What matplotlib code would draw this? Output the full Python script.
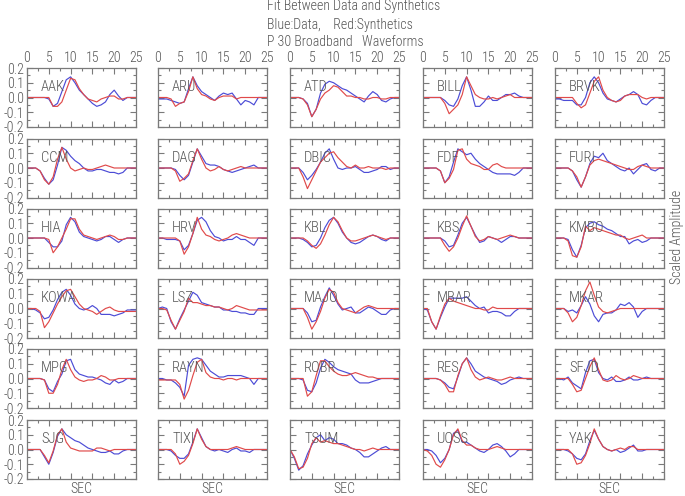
import matplotlib
matplotlib.use("Agg")
import matplotlib.pyplot as plt
import matplotlib.font_manager as fm
from matplotlib.ticker import FixedLocator, FixedFormatter

# ---------------- data (time in s, amplitudes in units of 0.01) ----------------
time_s = list(range(26))

stations = ["AAK", "ARU", "ATD", "BILL", "BRVK",
            "CCM", "DAG", "DBIC", "FDF", "FURI",
            "HIA", "HRV", "KBL", "KBS", "KMBO",
            "KOWA", "LSZ", "MAJO", "MBAR", "MKAR",
            "MPG", "RAYN", "ROBR", "RES", "SFJD",
            "SJG", "TIXI", "TSUM", "UOSS", "YAK"]

AAK_B = [0,0,0,0,0,-1,-6,-4,4,12,14,10,5,2,-1,-4,-6,-5,-3,2,5,1,-2,0,0,0]
AAK_R = [0,0,0,0,0,0,-6,-6,-3,5,13,12,6,2,-1,-2,-3,-1,0,1,1,-1,-1,0,0,0]
ARU_B = [-1,-1,-1,-2,-3,-4,-3,6,14,8,4,2,0,-2,1,3,2,3,-1,-5,-2,-3,-5,0,0,0]
ARU_R = [0,0,0,-1,-6,-4,-3,4,14,6,2,1,-1,-2,0,1,1,1,-1,0,0,0,0,0,0,0]
ATD_B = [0,0,0,-1,-4,-13,-8,3,9,11,10,8,6,5,3,1,-1,-3,1,4,2,-2,-3,-1,0,0]
ATD_R = [0,0,0,-1,-5,-13,-8,-1,3,5,8,7,4,1,1,0,0,-1,-1,0,0,-1,-1,0,0,0]
BILL_B = [0,0,0,0,0,-2,-5,-6,-1,8,14,5,-6,-6,-3,1,-2,-2,0,2,2,3,1,0,0,0]
BILL_R = [0,0,0,0,0,-4,-11,-8,-5,2,14,8,2,0,-1,-1,0,-1,0,1,2,0,0,0,0,0]
BRVK_B = [-1,-1,-2,-2,-2,-5,-5,0,10,14,10,3,-1,-2,-3,-1,1,2,4,2,-4,-5,-2,0,0,0]
BRVK_R = [0,0,0,0,0,-4,-7,-5,3,11,14,5,0,-2,-3,-2,1,2,2,2,0,-1,0,0,0,0]

CCM_B = [0,0,0,-2,-7,-11,-8,2,14,12,8,5,3,0,-2,-2,-1,-1,-2,-3,-3,-4,-3,0,0,0]
CCM_R = [0,0,0,-2,-8,-11,-6,6,14,6,0,-2,-1,0,-1,-1,0,1,2,1,0,0,0,0,0,0]
DAG_B = [0,0,0,0,-1,-5,-8,-5,4,13,8,3,2,2,1,-1,-2,-3,-2,-1,0,1,2,0,0,0]
DAG_R = [0,0,0,0,-2,-9,-7,-4,5,13,6,0,-2,-1,1,-1,-2,-1,0,1,0,0,0,0,0,0]
DBIC_B = [0,0,0,-3,-8,-5,-1,4,10,13,6,0,-1,0,0,1,-1,-3,-3,-2,-1,1,1,-1,0,0]
DBIC_R = [0,0,0,-6,-14,-8,-2,4,7,10,11,7,4,1,0,2,0,0,1,0,0,0,-1,0,0,0]
FDF_B = [0,0,0,0,-2,-10,-6,4,13,11,9,10,6,3,1,-1,-3,-4,-4,-4,-4,-5,-3,0,0,0]
FDF_R = [0,0,0,0,-2,-10,-7,-1,12,13,6,3,2,1,-1,-1,2,3,1,0,0,0,0,0,0,0]
FURI_B = [0,0,0,0,-2,-8,-13,-6,3,8,7,10,5,3,1,-1,-2,0,-4,-1,2,3,-1,-2,0,0]
FURI_R = [0,0,0,0,-2,-6,-13,-6,2,5,6,5,4,3,2,1,0,-1,-1,1,2,1,0,0,0,0]

HIA_B = [0,0,0,0,0,-3,-6,-6,-2,9,14,11,4,1,0,-1,-2,-1,1,1,-1,-3,-1,0,0,0]
HIA_R = [0,0,0,0,0,-1,-10,-6,0,6,13,13,6,2,1,0,-1,0,1,2,1,-1,-1,0,0,0]
HRV_B = [0,0,-1,-1,-1,-2,-8,-5,3,12,14,11,5,1,0,-2,-1,-1,1,-1,-1,-3,-5,0,0,0]
HRV_R = [0,0,0,0,0,-2,-11,-6,3,14,6,2,1,-1,-2,-1,0,2,3,2,1,0,0,0,0,0]
KBL_B = [0,0,0,-1,-3,-6,-5,0,7,12,14,10,4,0,-3,-4,-3,-1,1,2,1,-1,-2,0,0,0]
KBL_R = [0,0,0,0,-2,-5,-7,-4,2,9,14,11,5,0,-2,-2,-1,0,1,2,1,0,-1,0,0,0]
KBS_B = [0,0,0,0,0,-2,-6,-5,2,10,14,8,2,-3,-2,1,0,-1,-3,-1,1,1,0,0,0,0]
KBS_R = [0,0,0,0,0,-5,-9,-6,0,8,15,8,1,-2,-1,1,0,-1,0,1,2,1,0,0,0,0]
KMBO_B = [0,0,0,-1,-8,-13,-5,7,10,11,9,8,6,5,3,1,1,-4,-2,-1,-3,-2,0,0,0,0]
KMBO_R = [0,0,0,-2,-12,-13,-6,8,5,7,6,5,4,3,2,2,0,-1,0,1,2,0,0,0,0,0]

KOWA_B = [0,0,-1,-3,-7,-6,-1,6,11,13,9,3,0,-1,0,2,0,-4,-4,-4,-5,-4,-3,-1,-1,-1]
KOWA_R = [0,0,0,-2,-13,-9,-3,3,8,12,13,8,3,0,-1,-2,-4,-2,0,1,-1,-2,-2,-2,-2,-2]
LSZ_B = [0,1,0,-9,-14,-7,-1,5,11,9,4,3,2,1,1,-1,-1,-2,-2,-3,-3,-4,-4,0,0,0]
LSZ_R = [0,0,-1,-8,-14,-8,-2,7,4,4,3,2,2,1,1,0,-1,0,2,1,0,-1,-1,-1,-1,-1]
MAJO_B = [0,0,0,0,-3,-9,-8,1,8,14,9,3,-1,0,1,-3,-3,-1,1,0,-2,-4,-4,-1,0,0]
MAJO_R = [0,0,0,0,-6,-14,-9,-2,7,13,11,4,0,-1,-2,-3,-1,1,2,1,0,0,0,0,0,0]
MBAR_B = [0,-1,-9,-14,-6,1,7,7,7,7,8,5,2,0,1,-3,-2,-2,-3,-5,-5,-2,0,0,0,0]
MBAR_R = [0,0,-9,-14,-5,3,7,5,4,3,2,1,0,0,-1,-1,1,0,0,0,0,0,0,0,0,0]
MKAR_B = [0,0,0,-2,-1,-3,2,8,3,-5,-9,-4,-3,-3,-1,3,2,4,1,-6,-2,0,0,0,0,0]
MKAR_R = [0,0,0,-3,-9,-6,2,12,18,9,1,-2,-3,-2,-1,0,0,0,0,0,0,0,0,0,0,0]

MPG_B = [0,0,0,0,-1,-7,-9,-2,3,12,13,6,3,2,1,1,0,-1,-3,-4,-1,-3,-2,0,0,0]
MPG_R = [0,0,0,0,-1,-10,-10,-4,6,13,6,1,-1,-2,-1,-1,0,2,1,-1,-1,0,0,0,0,0]
RAYN_B = [0,0,-1,-1,-3,-6,-12,9,13,14,13,9,5,3,1,1,2,2,2,2,1,0,-4,0,0,0]
RAYN_R = [-1,-1,-1,-1,-1,-4,-14,-8,2,11,13,4,1,0,0,-1,0,0,-1,0,0,0,0,0,0,0]
ROBR_B = [0,0,0,-1,-8,-9,-3,7,13,11,8,6,5,4,3,-1,-3,-3,-3,-2,-1,0,0,0,0,0]
ROBR_R = [0,0,0,0,-12,-9,2,12,12,8,5,3,2,2,3,4,3,2,1,1,0,0,0,0,0,0]
RES_B = [0,0,0,0,-1,-3,-6,-7,1,10,14,10,5,3,1,0,-1,-2,-4,-3,-1,0,1,0,0,0]
RES_R = [0,0,0,0,-1,-4,-9,-9,2,10,14,6,1,-1,0,1,0,-1,-1,0,1,0,0,0,0,0]
SFJD_B = [0,0,-1,1,-3,-5,-7,4,12,13,4,0,-1,1,-2,-2,-1,1,-1,-1,0,1,0,0,0,0]
SFJD_R = [0,0,0,0,-4,-9,-8,0,8,14,6,-1,-2,-1,2,0,-1,0,2,1,0,0,0,0,0,0]

SJG_B = [0,0,0,0,-5,-10,-2,9,14,10,8,6,5,3,1,0,-1,-2,-2,-1,-3,-3,-1,0,0,0]
SJG_R = [0,0,0,0,-4,-9,-1,10,14,5,1,0,-1,-1,-1,-1,1,1,0,-1,0,0,0,0,0,0]
TIXI_B = [0,0,0,-1,-4,-6,-6,-3,5,14,8,2,0,-1,0,-1,-2,0,1,-1,-1,-2,0,0,0,0]
TIXI_R = [0,0,0,0,-3,-10,-8,-4,4,14,7,2,0,0,0,0,0,1,2,1,0,0,0,0,0,0]
TSUM_B = [0,-6,-14,-11,-3,3,8,10,6,8,7,4,4,3,1,0,-2,-5,-5,-3,-1,1,2,0,0,0]
TSUM_R = [0,-5,-13,-12,-6,4,8,5,6,5,4,4,3,2,1,0,0,-1,0,1,0,0,0,0,0,0]
UOSS_B = [0,0,-1,-4,-9,-6,0,11,13,5,5,3,1,-1,-2,0,3,4,2,-1,-5,-3,0,0,0,0]
UOSS_R = [0,-1,-4,-10,-12,-7,0,10,14,6,3,3,1,0,0,0,1,2,1,0,0,0,0,0,0,0]
YAK_B = [0,0,0,-1,-3,-6,-7,-3,6,13,7,2,0,-1,0,-2,-1,1,3,-1,-1,0,0,0,0,0]
YAK_R = [0,0,0,0,-3,-10,-9,-4,4,14,7,2,0,-1,0,1,0,2,2,0,0,0,0,0,0,0]

x_tick_labels = ["0", "5", "10", "15", "20", "25"]
y_tick_labels = ["-0.2", "-0.1", "0.0", "0.1", "0.2"]
title_lines = ["Fit Between Data and Synthetics",
               "Blue:Data,    Red:Synthetics",
               "P 30 Broadband   Waveforms"]


# ---------------- font: prefer a light condensed face (IDL-like narrow text) ----------------
def pick_font():
    prefs = [("Roboto Condensed", None), ("DejaVu Sans", "condensed"),
             ("Liberation Sans Narrow", None), ("Open Sans Condensed", None),
             ("Noto Sans", "condensed")]
    for fam, stretch in prefs:
        found = {}
        for f in fm.fontManager.ttflist:
            if f.name != fam or f.style != 'normal':
                continue
            if stretch is not None and f.stretch not in ('condensed', 'semi-condensed'):
                continue
            found.setdefault(f.weight, f.fname)
        for w in (300, 'light', 400, 'normal', 'regular'):
            if w in found:
                return found[w], True
    for f in fm.fontManager.ttflist:
        if f.name == "Liberation Sans" and f.style == 'normal' and f.weight in (400, 'normal', 'regular'):
            return f.fname, False
    return None, False


font_path, condensed = pick_font()
FS = 10.0 if condensed else 8.6


def fp(size=FS):
    if font_path:
        return fm.FontProperties(fname=font_path, size=size)
    return fm.FontProperties(family='DejaVu Sans', size=size)


# ---------------- drawing ----------------
g = globals()
observed = {s: g[s + "_B"] for s in stations}
synthetic = {s: g[s + "_R"] for s in stations}

TXT = '#555555'
FRAME = '#7a7a7a'
BLUE = '#4c4cd6'
RED = '#e04a4a'

W, H = 685, 496
fig = plt.figure(figsize=(W / 100, H / 100), dpi=100)

col_left = [27, 158, 290, 423, 555]
row_top = [68, 138.5, 208.5, 279, 349, 420]
pw, ph = 109, 59

for i, st in enumerate(stations):
    r, c = divmod(i, 5)
    x0, y0 = col_left[c], row_top[r]
    ax = fig.add_axes([x0 / W, 1 - (y0 + ph) / H, pw / W, ph / H])
    ax.plot(time_s, [v / 100 for v in observed[st]], color=BLUE, lw=0.85)
    ax.plot(time_s, [v / 100 for v in synthetic[st]], color=RED, lw=0.85)
    ax.set_xlim(0, 25)
    ax.set_ylim(-0.2, 0.2)
    ax.xaxis.set_major_locator(FixedLocator([0, 5, 10, 15, 20, 25]))
    ax.xaxis.set_minor_locator(FixedLocator([2.5, 7.5, 12.5, 17.5, 22.5]))
    ax.yaxis.set_major_locator(FixedLocator([-0.2, -0.1, 0.0, 0.1, 0.2]))
    ax.yaxis.set_minor_locator(FixedLocator([-0.15, -0.05, 0.05, 0.15]))
    ax.xaxis.set_major_formatter(FixedFormatter(x_tick_labels))
    ax.yaxis.set_major_formatter(FixedFormatter(y_tick_labels))
    ax.tick_params(which='both', direction='in', top=True, right=True,
                   bottom=True, left=True, color=FRAME, width=0.8,
                   labelcolor=TXT)
    ax.tick_params(which='major', length=4.5)
    ax.tick_params(which='minor', length=2.5)
    ax.tick_params(axis='x', labelbottom=False, labeltop=(r == 0), pad=2)
    ax.tick_params(axis='y', labelleft=(c == 0), pad=2)
    for lbl in ax.get_xticklabels() + ax.get_yticklabels():
        lbl.set_fontproperties(fp())
    for sp in ax.spines.values():
        sp.set_color(FRAME)
        sp.set_linewidth(0.9)
    ax.text(0.13, 0.67, st, transform=ax.transAxes, color=TXT,
            fontproperties=fp(FS + 0.5), ha='left', va='center')
    if r == 5:
        fig.text((x0 + pw / 2) / W, 1 - 489 / H, "SEC", color=TXT,
                 fontproperties=fp(), ha='center', va='center')

for line, yc in zip(title_lines, [6, 25, 42]):
    fig.text(267 / W, 1 - yc / H, line, color=TXT, fontproperties=fp(),
             ha='left', va='center')

fig.text(677 / W, 1 - 237 / H, "Scaled Amplitude", color=TXT,
         fontproperties=fp(), rotation=90, ha='center', va='center')

fig.savefig("out.png", dpi=100)
